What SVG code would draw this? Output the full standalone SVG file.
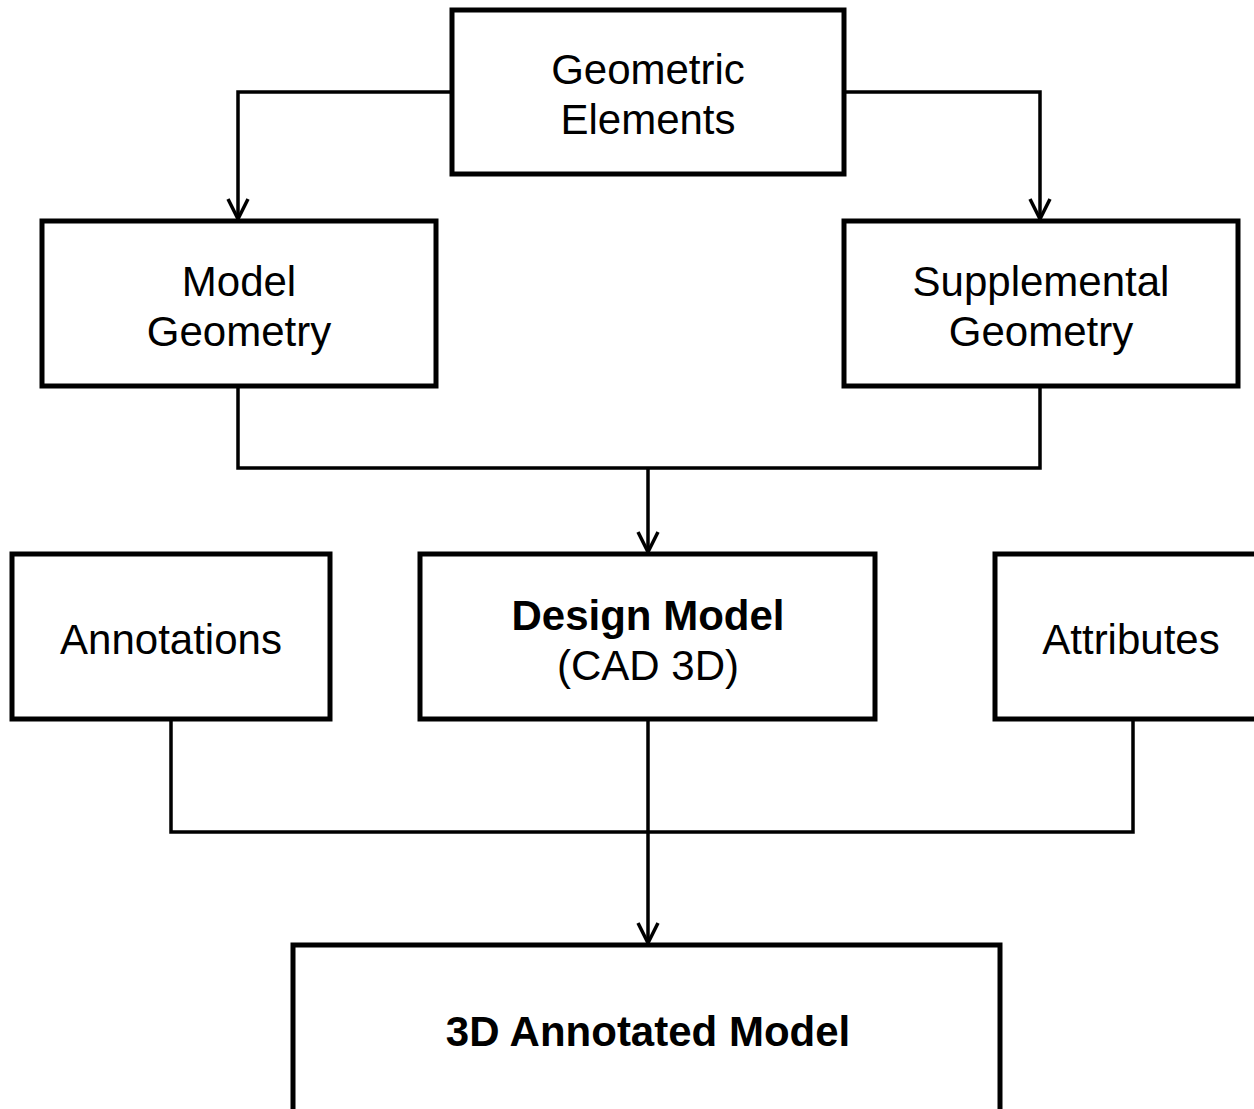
<svg xmlns="http://www.w3.org/2000/svg" width="1254" height="1109" viewBox="0 0 1254 1109">
<style>
.box{fill:#fff;stroke:#000;stroke-width:5}
.t{font-family:"Liberation Sans",Arial,sans-serif;font-size:42px;fill:#000;text-anchor:middle}
.b{font-weight:bold}
.c{fill:none;stroke:#000;stroke-width:3.5}
</style>
<defs>
<marker id="ah" markerWidth="24" markerHeight="24" refX="22" refY="12" orient="auto" markerUnits="userSpaceOnUse" viewBox="0 0 24 24">
<path d="M2,2 L22,12 L2,22" fill="none" stroke="#000" stroke-width="3.5"/>
</marker>
</defs>
<g id="connectors">
<path class="c" d="M452,92 H238 V219" marker-end="url(#ah)"/>
<path class="c" d="M844,92 H1040 V219" marker-end="url(#ah)"/>
<path class="c" d="M238,386 V468 H1040 V386"/>
<path class="c" d="M648,468 V552" marker-end="url(#ah)"/>
<path class="c" d="M171,719 V832 H1133 V719"/>
<path class="c" d="M648,719 V943" marker-end="url(#ah)"/>
</g>
<g id="geometric-elements">
<rect class="box" x="452" y="10" width="392" height="164"/>
<text class="t" x="648" y="84">Geometric</text>
<text class="t" x="648" y="134">Elements</text>
</g>
<g id="model-geometry">
<rect class="box" x="42" y="221" width="394" height="165"/>
<text class="t" x="239" y="296">Model</text>
<text class="t" x="239" y="346">Geometry</text>
</g>
<g id="supplemental-geometry">
<rect class="box" x="844" y="221" width="394" height="165"/>
<text class="t" x="1041" y="296">Supplemental</text>
<text class="t" x="1041" y="346">Geometry</text>
</g>
<g id="annotations">
<rect class="box" x="12" y="554" width="318" height="165"/>
<text class="t" x="171" y="654">Annotations</text>
</g>
<g id="design-model">
<rect class="box" x="420" y="554" width="455" height="165"/>
<text class="t b" x="648" y="630">Design Model</text>
<text class="t" x="648" y="680">(CAD 3D)</text>
</g>
<g id="attributes">
<rect class="box" x="995" y="554" width="270" height="165"/>
<text class="t" x="1131" y="654">Attributes</text>
</g>
<g id="annotated-model">
<rect class="box" x="293" y="945" width="707" height="180"/>
<text class="t b" x="648" y="1046">3D Annotated Model</text>
</g>
</svg>
